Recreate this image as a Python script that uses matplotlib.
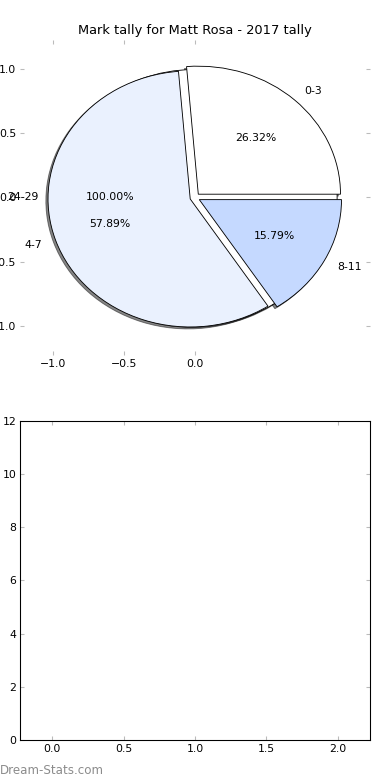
import matplotlib
matplotlib.use("Agg")
import matplotlib.pyplot as plt

# single full wedge drawn first, then the real tally on top of it
base_labels = ["24-29"]
base_counts = [1]

mark_labels = ["0-3", "4-7", "8-11"]
mark_counts = [5, 11, 3]
mark_colors = ["#ffffff", "#eaf1fe", "#c5d9ff"]

bar_xticks = [0.0, 0.5, 1.0, 1.5, 2.0]
bar_yticks = [0, 2, 4, 6, 8, 10, 12]

plt.rcParams["font.size"] = 10

fig = plt.figure(figsize=(5, 10), dpi=78)
ax1 = fig.add_axes([0.0513, 0.5449, 0.897, 0.4038])
ax2 = fig.add_axes([0.0513, 0.0513, 0.897, 0.409])

shadow = {"ox": -0.014, "oy": -0.014, "shade": 0.95}

# ── Top: pie ──────────────────────────────────────────────────────────────────
ax1.pie(base_counts, labels=base_labels, colors=["#ffffff"], autopct="%.2f%%",
        shadow=shadow, startangle=0, frame=True,
        wedgeprops={"edgecolor": "black", "linewidth": 0.8})
ax1.pie(mark_counts, labels=mark_labels, colors=mark_colors, autopct="%.2f%%",
        explode=[0.035] * len(mark_counts), shadow=shadow, startangle=0,
        frame=True, wedgeprops={"edgecolor": "black", "linewidth": 0.8})
ax1.set_aspect("auto")
ax1.set_xlim(-1.23, 1.23)
ax1.set_ylim(-1.23, 1.23)
ax1.set_xticks([-1.0, -0.5, 0.0])
ax1.set_yticks([-1.0, -0.5, 0.0, 0.5, 1.0])
for s in ax1.spines.values():
    s.set_visible(False)
ax1.tick_params(direction="in", color="#bbbbbb", length=4, width=1,
                top=True, right=True, labelsize=10)
ax1.set_title("Mark tally for Matt Rosa - 2017 tally", fontsize=12)

# ── Bottom: empty axes ────────────────────────────────────────────────────────
ax2.set_xlim(-0.225, 2.225)
ax2.set_ylim(0, 12)
ax2.set_xticks(bar_xticks)
ax2.set_yticks(bar_yticks)
ax2.tick_params(direction="in", color="#bbbbbb", length=4, width=1,
                top=True, right=True, labelsize=10)
for s in ax2.spines.values():
    s.set_color("black")
    s.set_linewidth(1)

fig.text(0.0, 10 / 780, "Dream-Stats.com", fontsize=11, color="#8c8c8c",
         ha="left", va="center")

fig.savefig("out.png", dpi=78)
